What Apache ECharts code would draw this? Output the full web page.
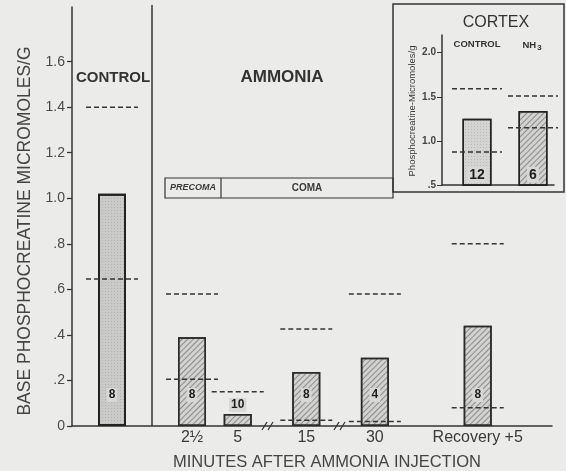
<!DOCTYPE html>
<html>
<head>
<meta charset="utf-8">
<script src="https://cdn.jsdelivr.net/npm/echarts@6/dist/echarts.min.js"></script>
<style>
  html, body { margin: 0; padding: 0; background: #ebebe9; }
  #chart { width: 566px; height: 471px; }
</style>
</head>
<body>
<div id="chart"></div>
<script>
// ---------- DATA ----------
const groups       = ['Control', '2½', '5', '15', '30', 'Recovery +5'];
const xTickLabels  = ['', '2½', '5', '15', '30', 'Recovery +5'];
const meanPC       = [1.02, 0.39, 0.053, 0.237, 0.30, 0.44];
const upperPC      = [1.40, 0.58, 0.15, 0.426, 0.58, 0.80];
const lowerPC      = [0.645, 0.205, null, 0.025, 0.02, 0.08];
const nAnimals     = [8, 8, 10, 8, 4, 8];
const yTickValues  = [0, 0.2, 0.4, 0.6, 0.8, 1.0, 1.2, 1.4, 1.6];
const yTickLabels  = ['0', '.2', '.4', '.6', '.8', '1.0', '1.2', '1.4', '1.6'];

const cortexGroups = ['CONTROL', 'NH3'];
const cortexMean   = [1.25, 1.34];
const cortexUpper  = [1.59, 1.51];
const cortexLower  = [0.875, 1.15];
const cortexN      = [12, 6];
const cortexTickValues = [0.5, 1.0, 1.5, 2.0];
const cortexTickLabels = ['.5', '1.0', '1.5', '2.0'];

// ---------- LAYOUT ----------
const MAIN_SLOTS = 42;
const mainSlotOf = [3, 10, 14, 20, 26, 35];
const CORTEX_SLOTS = 8;
const cortexSlotOf = [2, 6];

const ink = '#353535';
const bg = '#ebebe9';
const font = '"Liberation Sans", Arial, sans-serif';

const hatch = {
  symbol: 'rect', symbolSize: 1, dashArrayX: [1, 0], dashArrayY: [1, 2.2],
  rotation: -Math.PI / 4, color: 'rgba(40,40,40,0.42)'
};
const stipple = {
  symbol: 'circle', symbolSize: 0.9, dashArrayX: [[1, 1.5]], dashArrayY: [1, 1.5],
  color: 'rgba(40,40,40,0.3)'
};

function slotArray(n, slots, fn) {
  const arr = new Array(n).fill('-');
  slots.forEach((s, i) => { arr[s] = fn(i); });
  return arr;
}

const mainCats = Array.from({ length: MAIN_SLOTS }, (_, i) => String(i));
const mainLabelAt = {};
mainSlotOf.forEach((s, i) => { mainLabelAt[s] = xTickLabels[i]; });
const cortexCats = Array.from({ length: CORTEX_SLOTS }, (_, i) => String(i));

const numLabel = (pos, dist, size) => ({
  show: true, position: pos, distance: dist,
  formatter: p => p.data.n, fontFamily: font, fontWeight: 'bold', fontSize: size || 12,
  color: '#1e1e1e', backgroundColor: '#d8d8d6', padding: [1, 2]
});

const mainBarData = slotArray(MAIN_SLOTS, mainSlotOf, i => ({
  value: meanPC[i], n: String(nAnimals[i]),
  itemStyle: i === 0
    ? { color: '#cacac8', decal: stipple, borderColor: '#222', borderWidth: 2 }
    : { color: '#d2d2d0', decal: hatch, borderColor: '#2a2a2a', borderWidth: 1.5 },
  label: meanPC[i] < 0.1 ? numLabel('top', 2) : numLabel('insideBottom', 24)
}));

const cortexBarData = slotArray(CORTEX_SLOTS, cortexSlotOf, i => ({
  value: cortexMean[i], n: String(cortexN[i]),
  itemStyle: i === 0
    ? { color: '#d4d4d2', decal: stipple, borderColor: '#222', borderWidth: 1.5 }
    : { color: '#d2d2d0', decal: hatch, borderColor: '#222', borderWidth: 1.5 },
  label: numLabel('insideBottom', 3, 14)
}));

const mainDashData = [];
mainSlotOf.forEach((s, i) => {
  if (upperPC[i] != null) mainDashData.push([s, upperPC[i]]);
  if (lowerPC[i] != null) mainDashData.push([s, lowerPC[i]]);
});
const cortexDashData = [];
cortexSlotOf.forEach((s, i) => {
  cortexDashData.push([s, cortexUpper[i]]);
  cortexDashData.push([s, cortexLower[i]]);
});

function dashRenderer(halfW) {
  return function (params, api) {
    const c = api.coord([api.value(0), api.value(1)]);
    return {
      type: 'line',
      shape: { x1: c[0] - halfW, y1: c[1], x2: c[0] + halfW, y2: c[1] },
      style: { stroke: ink, lineWidth: 1.5, lineDash: [5, 3] }
    };
  };
}

const chart = echarts.init(document.getElementById('chart'), null, { renderer: 'canvas' });

chart.setOption({
  backgroundColor: bg,
  animation: false,
  grid: [
    { left: 72, right: 14, top: 7, bottom: 45 },
    { left: 442, right: 12, top: 35, bottom: 286 }
  ],
  xAxis: [
    {
      type: 'category', gridIndex: 0, data: mainCats,
      axisLine: { lineStyle: { color: ink, width: 1.5 } },
      axisTick: { show: false },
      axisLabel: {
        interval: 0, margin: 4, fontFamily: font, fontSize: 16, color: '#3a3a3a',
        formatter: (v, idx) => mainLabelAt[idx] || ''
      }
    },
    {
      type: 'category', gridIndex: 1, data: cortexCats,
      axisLine: { lineStyle: { color: ink, width: 1.5 } },
      axisTick: { show: false }, axisLabel: { show: false }
    }
  ],
  yAxis: [
    {
      type: 'value', gridIndex: 0, min: 0, max: 1.84,
      axisLine: { show: true, lineStyle: { color: ink, width: 1.5 } },
      axisTick: { show: true, length: 5, customValues: yTickValues, lineStyle: { color: ink, width: 1.3 } },
      axisLabel: {
        customValues: yTickValues, margin: 7, fontFamily: font, fontSize: 14, color: '#4a4a4a',
        formatter: v => yTickLabels[yTickValues.findIndex(t => Math.abs(t - v) < 1e-6)] ?? ''
      },
      splitLine: { show: false }
    },
    {
      type: 'value', gridIndex: 1, min: 0.5, max: 2.2,
      axisLine: { show: true, lineStyle: { color: ink, width: 1.5 } },
      axisTick: { show: true, length: 5, customValues: cortexTickValues, lineStyle: { color: ink } },
      axisLabel: {
        customValues: cortexTickValues, margin: 6, fontFamily: font, fontSize: 10, fontWeight: 'bold', color: '#444',
        formatter: v => cortexTickLabels[cortexTickValues.findIndex(t => Math.abs(t - v) < 1e-6)] ?? ''
      },
      splitLine: { show: false }
    }
  ],
  series: [
    { type: 'bar', xAxisIndex: 0, yAxisIndex: 0, barWidth: 28, data: mainBarData, z: 2 },
    { type: 'custom', xAxisIndex: 0, yAxisIndex: 0, renderItem: dashRenderer(26), data: mainDashData, z: 4 },
    { type: 'bar', xAxisIndex: 1, yAxisIndex: 1, barWidth: 29, data: cortexBarData, z: 2 },
    { type: 'custom', xAxisIndex: 1, yAxisIndex: 1, renderItem: dashRenderer(25), data: cortexDashData, z: 4 }
  ],
  graphic: [
    { type: 'line', shape: { x1: 152, y1: 5, x2: 152, y2: 426 }, style: { stroke: ink, lineWidth: 1.5 } },
    { type: 'rect', shape: { x: 393, y: 4, width: 171, height: 188 }, style: { fill: 'none', stroke: ink, lineWidth: 1.5 } },
    { type: 'rect', shape: { x: 165, y: 178, width: 228, height: 20 }, style: { fill: 'none', stroke: ink, lineWidth: 1.2 } },
    { type: 'line', shape: { x1: 221, y1: 178, x2: 221, y2: 198 }, style: { stroke: ink, lineWidth: 1.2 } },
    { type: 'text', x: 193, y: 188, style: { text: 'PRECOMA', fontFamily: font, fontSize: 9, fontWeight: 'bold', fontStyle: 'italic', fill: '#3a3a3a', align: 'center', verticalAlign: 'middle' } },
    { type: 'text', x: 307, y: 188, style: { text: 'COMA', fontFamily: font, fontSize: 10, fontWeight: 'bold', fill: '#3a3a3a', align: 'center', verticalAlign: 'middle' } },
    // section titles
    { type: 'text', x: 113, y: 78, style: { text: 'CONTROL', fontFamily: font, fontSize: 15, fontWeight: 'bold', fill: '#333', align: 'center', verticalAlign: 'middle' } },
    { type: 'text', x: 282, y: 77, style: { text: 'AMMONIA', fontFamily: font, fontSize: 17, fontWeight: 'bold', fill: '#333', align: 'center', verticalAlign: 'middle' } },
    // inset texts
    { type: 'text', x: 496, y: 23, style: { text: 'CORTEX', fontFamily: font, fontSize: 16, fill: '#333', align: 'center', verticalAlign: 'middle' } },
    { type: 'text', x: 477, y: 44, style: { text: cortexGroups[0], fontFamily: font, fontSize: 9.5, fontWeight: 'bold', fill: '#333', align: 'center', verticalAlign: 'middle' } },
    { type: 'text', x: 532, y: 45, style: { text: '{a|NH}{b|3}', rich: { a: { fontFamily: font, fontSize: 9.5, fontWeight: 'bold', fill: '#333' }, b: { fontFamily: font, fontSize: 8, fontWeight: 'bold', fill: '#333', padding: [6, 0, 0, 1] } }, align: 'center', verticalAlign: 'middle' } },
    { type: 'text', x: 412, y: 111, rotation: Math.PI / 2, style: { text: 'Phosphocreatine-Micromoles/g', fontFamily: font, fontSize: 9.5, fill: '#3a3a3a', align: 'center', verticalAlign: 'middle' } },
    // axis titles
    { type: 'text', x: 25, y: 231, rotation: Math.PI / 2, style: { text: 'BASE PHOSPHOCREATINE MICROMOLES/G', fontFamily: font, fontSize: 17.5, fill: '#444', align: 'center', verticalAlign: 'middle' } },
    { type: 'text', x: 327, y: 462, style: { text: 'MINUTES AFTER AMMONIA INJECTION', fontFamily: font, fontSize: 16.5, fill: '#444', align: 'center', verticalAlign: 'middle' } },
    // axis break marks
    { type: 'rect', shape: { x: 263, y: 423, width: 10, height: 6 }, style: { fill: bg } },
    { type: 'line', shape: { x1: 262, y1: 430, x2: 267, y2: 422 }, style: { stroke: ink, lineWidth: 1.3 } },
    { type: 'line', shape: { x1: 268, y1: 430, x2: 273, y2: 422 }, style: { stroke: ink, lineWidth: 1.3 } },
    { type: 'rect', shape: { x: 335, y: 423, width: 10, height: 6 }, style: { fill: bg } },
    { type: 'line', shape: { x1: 334, y1: 430, x2: 339, y2: 422 }, style: { stroke: ink, lineWidth: 1.3 } },
    { type: 'line', shape: { x1: 340, y1: 430, x2: 345, y2: 422 }, style: { stroke: ink, lineWidth: 1.3 } }
  ]
});
</script>
</body>
</html>
